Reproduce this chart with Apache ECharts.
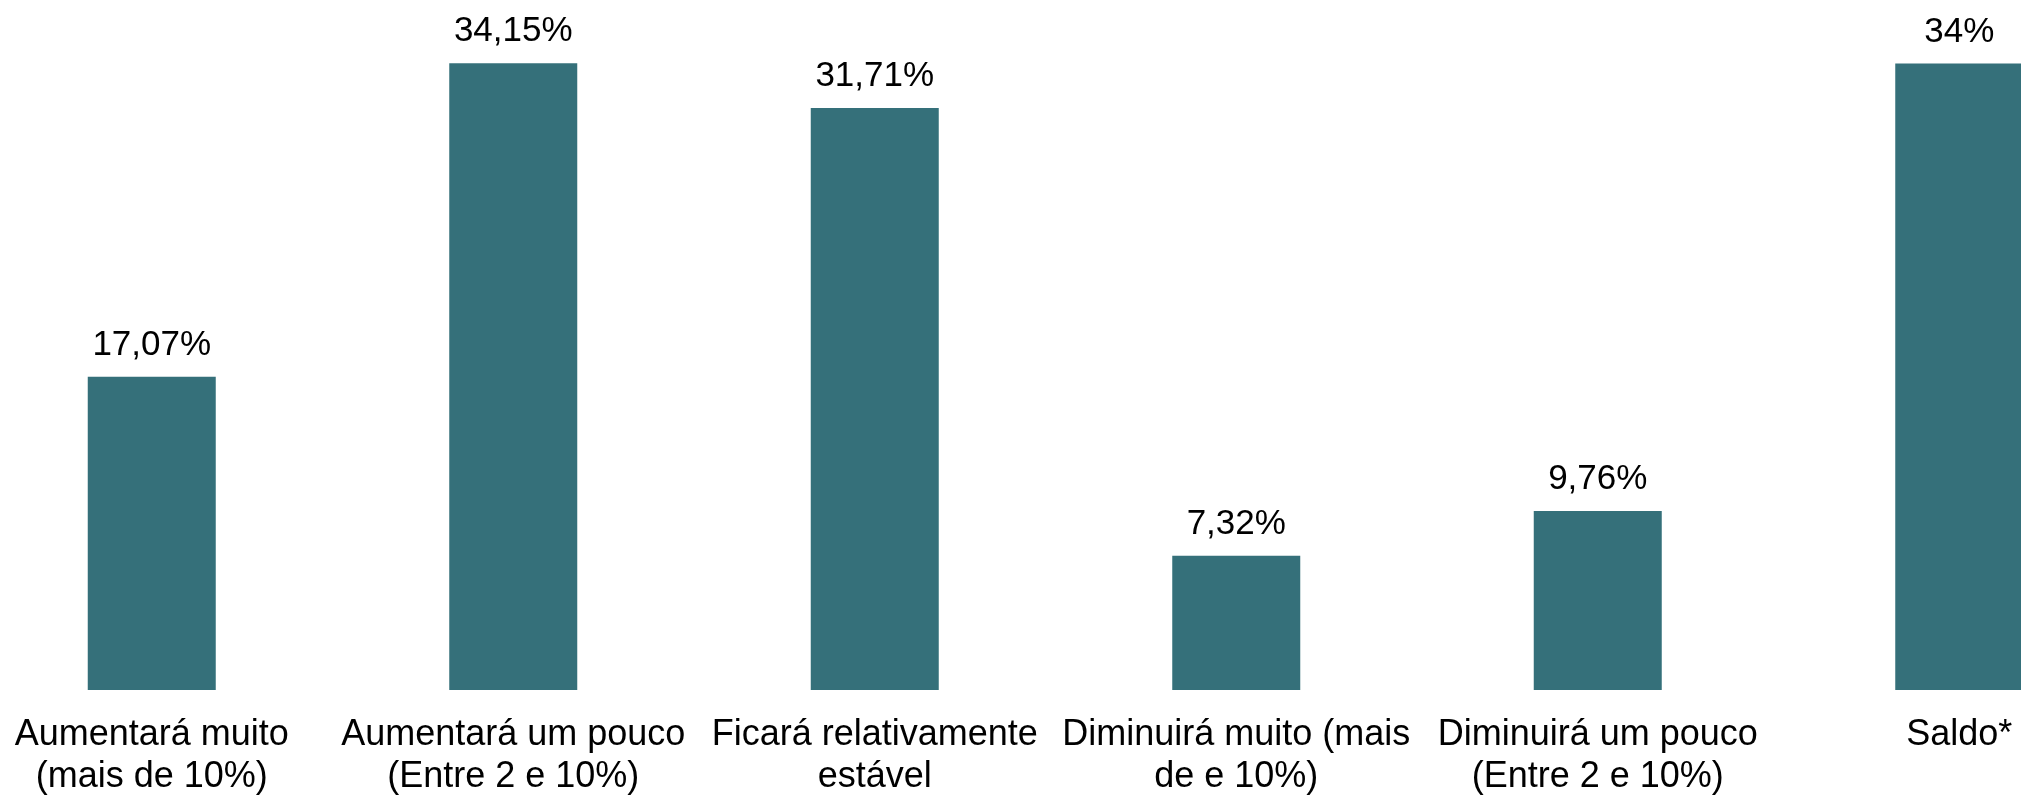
<!DOCTYPE html>
<html>
<head>
<meta charset="utf-8">
<script src="https://cdn.jsdelivr.net/npm/echarts@6/dist/echarts.min.js"></script>
<style>
  html, body { margin: 0; padding: 0; background: #fff; }
  #chart { width: 2021px; height: 796px; }
</style>
</head>
<body>
<div id="chart"></div>
<script>
// categories (line breaks as in the original)
var categories = [
    'Aumentará muito\n(mais de 10%)',
    'Aumentará um pouco\n(Entre 2 e 10%)',
    'Ficará relativamente\nestável',
    'Diminuirá muito (mais\nde e 10%)',
    'Diminuirá um pouco\n(Entre 2 e 10%)',
    'Saldo*'
];
var values = [17.07, 34.15, 31.71, 7.32, 9.76, 34.14];
var valueLabels = ['17,07%', '34,15%', '31,71%', '7,32%', '9,76%', '34%'];

var myChart = echarts.init(document.getElementById('chart'));

var option = {
    animation: false,
    grid: {
        left: -29,
        width: 2169,
        top: 0,
        bottom: 106,
        containLabel: false,
        outerBoundsMode: 'none'
    },
    xAxis: {
        type: 'category',
        data: categories,
        axisLine: { show: false },
        axisTick: { show: false },
        axisLabel: {
            interval: 0,
            margin: 24,
            color: '#000',
            fontFamily: 'Liberation Sans',
            fontSize: 36,
            lineHeight: 42
        }
    },
    yAxis: {
        type: 'value',
        min: 0,
        max: 37.6,
        show: false,
        splitLine: { show: false }
    },
    series: [
        {
            type: 'bar',
            barWidth: 128,
            data: values,
            itemStyle: { color: '#35707a' },
            label: {
                show: true,
                position: 'top',
                distance: 14,
                color: '#000',
                fontFamily: 'Liberation Sans',
                fontSize: 35,
                formatter: function (p) { return valueLabels[p.dataIndex]; }
            }
        }
    ]
};

myChart.setOption(option);
</script>
</body>
</html>
